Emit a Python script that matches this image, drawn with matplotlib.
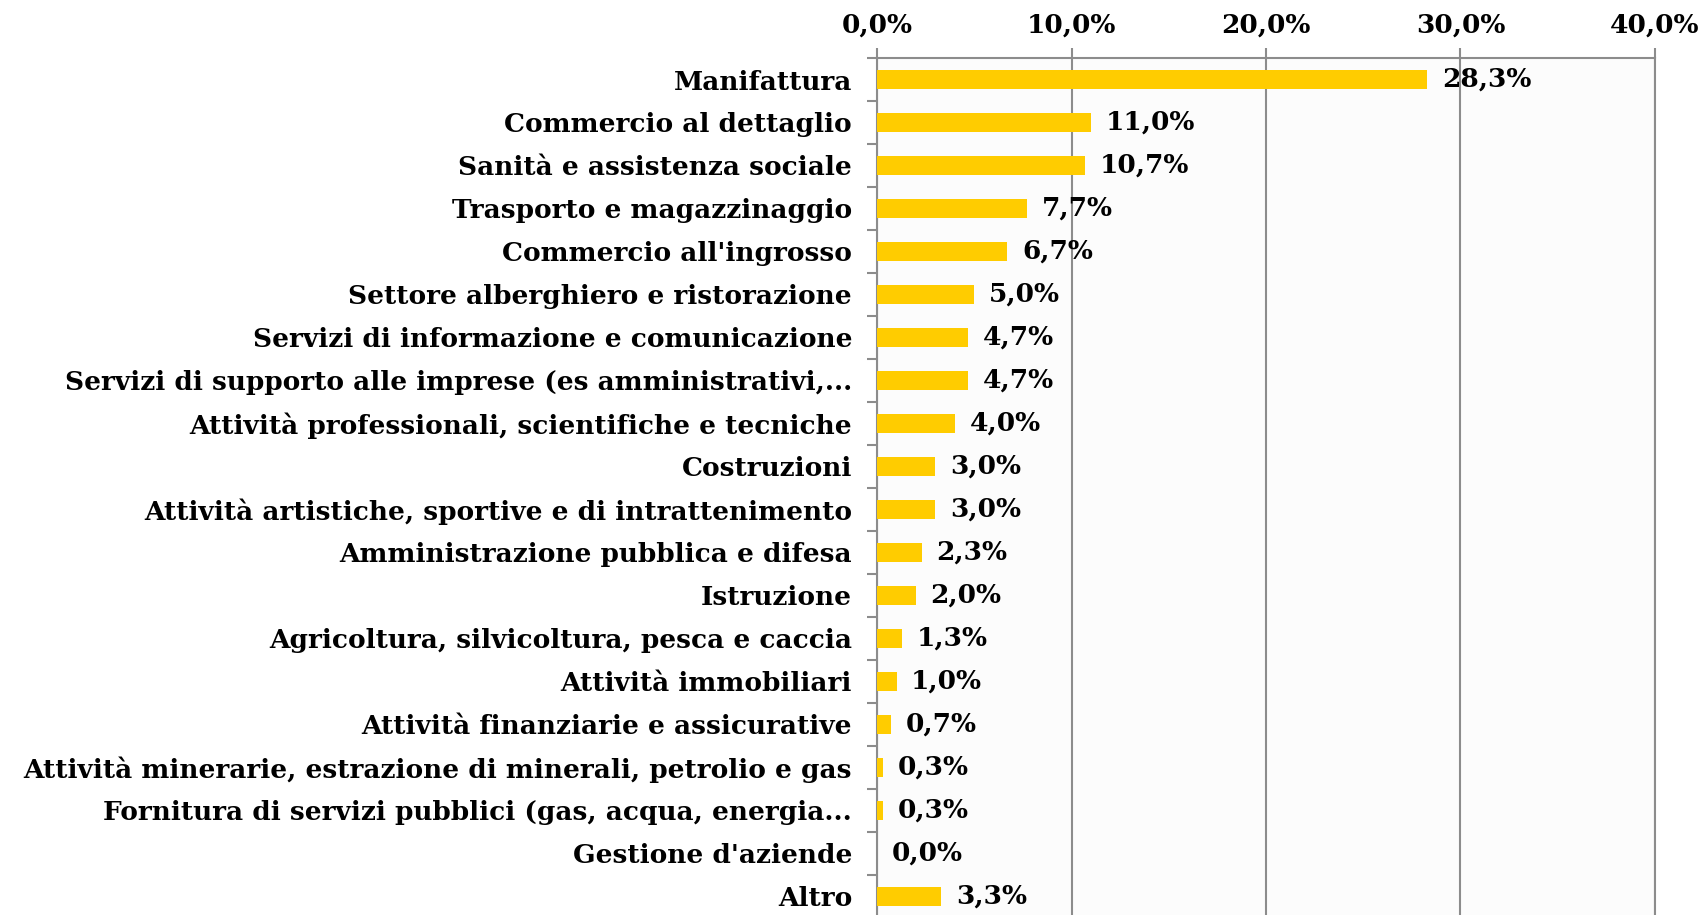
import numpy as np
import matplotlib.pyplot as plt
from matplotlib.ticker import FuncFormatter, FixedLocator

categories = [
    "Manifattura",
    "Commercio al dettaglio",
    "Sanità e assistenza sociale",
    "Trasporto e magazzinaggio",
    "Commercio all'ingrosso",
    "Settore alberghiero e ristorazione",
    "Servizi di informazione e comunicazione",
    "Servizi di supporto alle imprese (es amministrativi,...",
    "Attività professionali, scientifiche e tecniche",
    "Costruzioni",
    "Attività artistiche, sportive e di intrattenimento",
    "Amministrazione pubblica e difesa",
    "Istruzione",
    "Agricoltura, silvicoltura, pesca e caccia",
    "Attività immobiliari",
    "Attività finanziarie e assicurative",
    "Attività minerarie, estrazione di minerali, petrolio e gas",
    "Fornitura di servizi pubblici (gas, acqua, energia...",
    "Gestione d'aziende",
    "Altro",
]
values = [28.3, 11.0, 10.7, 7.7, 6.7, 5.0, 4.7, 4.7, 4.0, 3.0,
          3.0, 2.3, 2.0, 1.3, 1.0, 0.7, 0.3, 0.3, 0.0, 3.3]
xticks = [0, 10, 20, 30, 40]

plt.rcParams['font.family'] = 'DejaVu Serif'
plt.rcParams['font.weight'] = 'bold'

fs = 19

fig = plt.figure(figsize=(17.07, 9.15), dpi=100)
ax = fig.add_axes([0.5138, -0.0029, 0.4557, 0.9395])
ax.set_facecolor('#fcfcfc')

grey = '#8c8c8c'
y = np.arange(len(categories))
ax.barh(y, values, height=0.44, color='#ffcc00', zorder=3)

for yi, v in zip(y, values):
    ax.text(v + 0.75, yi, f"{v:.1f}%".replace('.', ','), va='center', ha='left',
            fontsize=fs, fontweight='bold', color='black', zorder=5)

ax.set_xlim(0, 40)
ax.set_ylim(len(categories) - 0.5, -0.5)
ax.xaxis.tick_top()
ax.set_xticks(xticks)
ax.xaxis.set_major_formatter(FuncFormatter(lambda v, p: f"{v:.1f}%".replace('.', ',')))
ax.tick_params(axis='x', which='major', length=7, width=1.5, color=grey,
               labelsize=fs, pad=8)
ax.grid(axis='x', color=grey, linewidth=1.5, zorder=1)

ax.set_yticks(y)
ax.set_yticklabels(categories)
ax.yaxis.set_minor_locator(FixedLocator(np.arange(-0.5, len(categories), 1)))
ax.tick_params(axis='y', which='major', length=0, pad=18, labelsize=fs)
ax.tick_params(axis='y', which='minor', length=7, width=1.5, color=grey)

for side in ['top', 'left', 'right']:
    ax.spines[side].set_color(grey)
    ax.spines[side].set_linewidth(1.5)
ax.spines['bottom'].set_visible(False)

fig.savefig('out.png', dpi=100)
